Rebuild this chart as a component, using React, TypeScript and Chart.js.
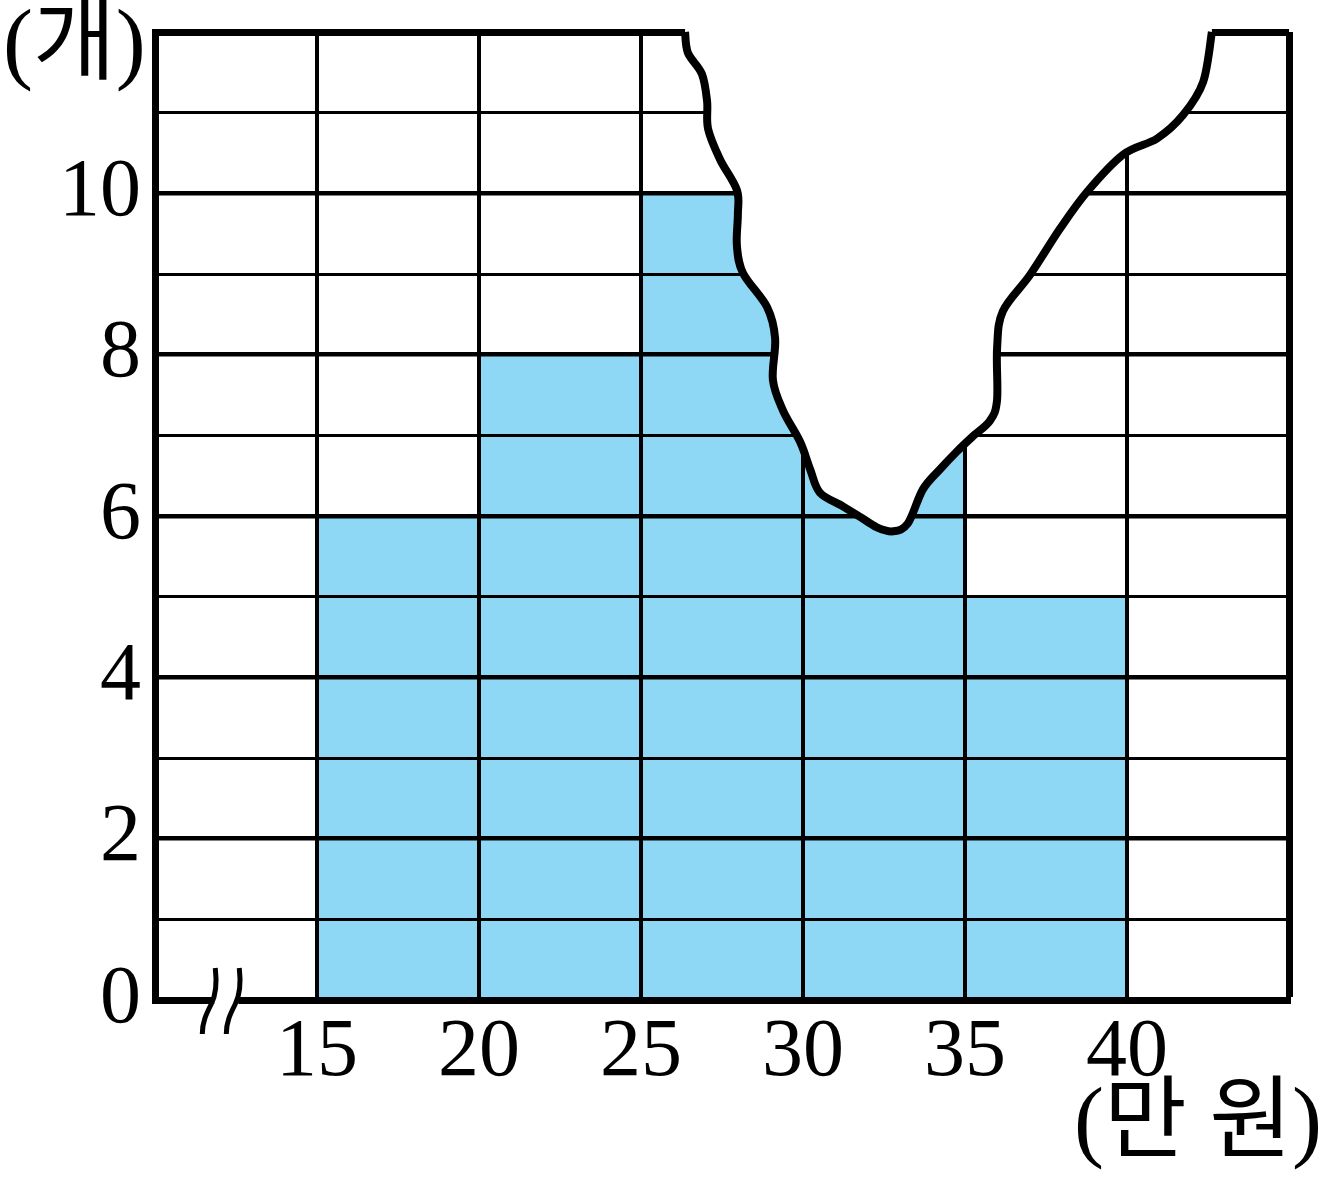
import React, { useEffect, useRef } from "react";
import { Chart, registerables } from "chart.js";

Chart.register(...registerables);

// ---- data ----
const binStarts = [15, 20, 25, 30, 35];
const binWidth = 5;
// 30~35 bar top is hidden by the torn part (at least 7)
const counts = [6, 8, 10, 8, 5];
const xTickValues = [15, 20, 25, 30, 35, 40];
const yTickValues = [0, 2, 4, 6, 8, 10];
const xMin = 10;
const xMax = 45;
const yMax = 12;
const yUnit = "(개)";
const xUnit = "(만 원)";

// torn edge, in data units (만 원, 개)
const tearX = [26.36, 26.45, 26.88, 27.04, 27.07, 27.44, 27.96, 27.99, 27.96, 28.15, 28.89, 29.14, 29.07, 29.38, 29.91, 30.22, 30.52, 31.23, 31.76, 32.28, 32.78, 33.24, 33.7, 34.23, 34.75, 35.22, 35.77, 35.99, 35.99, 36.17, 37.01, 37.93, 38.77, 39.88, 40.93, 41.73, 42.35, 42.62];
const tearY = [12.0, 11.74, 11.48, 11.14, 10.8, 10.42, 10.04, 9.74, 9.35, 9.01, 8.59, 8.2, 7.69, 7.31, 6.92, 6.58, 6.29, 6.12, 5.99, 5.86, 5.81, 5.91, 6.33, 6.58, 6.8, 6.98, 7.18, 7.44, 8.08, 8.54, 8.99, 9.56, 10.02, 10.48, 10.68, 10.97, 11.38, 12.0];
const breakAt = 12.2;

const BAR_COLOR = "#8fd8f5";
const SERIF = "'Liberation Serif', 'DejaVu Serif', 'Noto Sans CJK KR', serif";

function smoothPath(ctx: CanvasRenderingContext2D, pts: { x: number; y: number }[], move: boolean) {
  if (move) ctx.moveTo(pts[0].x, pts[0].y);
  for (let i = 0; i < pts.length - 1; i++) {
    const p0 = pts[Math.max(0, i - 1)];
    const p1 = pts[i];
    const p2 = pts[i + 1];
    const p3 = pts[Math.min(pts.length - 1, i + 2)];
    const c1x = p1.x + (p2.x - p0.x) / 6;
    const c1y = p1.y + (p2.y - p0.y) / 6;
    const c2x = p2.x - (p3.x - p1.x) / 6;
    const c2y = p2.y - (p3.y - p1.y) / 6;
    ctx.bezierCurveTo(c1x, c1y, c2x, c2y, p2.x, p2.y);
  }
}

const decorPlugin = {
  id: "decor",
  afterDraw(chart: any) {
    const ctx: CanvasRenderingContext2D = chart.ctx;
    const xs = chart.scales.x;
    const ys = chart.scales.y;
    const pts = tearX.map((x, i) => ({ x: xs.getPixelForValue(x), y: ys.getPixelForValue(tearY[i]) }));

    // torn region (white)
    ctx.save();
    ctx.beginPath();
    smoothPath(ctx, pts, true);
    const topY = ys.getPixelForValue(yMax) - 12;
    ctx.lineTo(pts[pts.length - 1].x, topY);
    ctx.lineTo(pts[0].x, topY);
    ctx.closePath();
    ctx.fillStyle = "#ffffff";
    ctx.fill();

    ctx.beginPath();
    smoothPath(ctx, pts, true);
    ctx.lineWidth = 8;
    ctx.strokeStyle = "#000";
    ctx.lineJoin = "round";
    ctx.lineCap = "butt";
    ctx.stroke();
    ctx.restore();

    // axis break symbol
    const bx = xs.getPixelForValue(breakAt);
    const by = ys.getPixelForValue(0);
    ctx.save();
    ctx.fillStyle = "#fff";
    ctx.fillRect(bx - 12, by - 6, 24, 12);
    ctx.strokeStyle = "#000";
    ctx.lineWidth = 5;
    ctx.lineCap = "butt";
    [-12, 12].forEach((dx) => {
      const cx = bx + dx;
      ctx.beginPath();
      ctx.moveTo(cx + 1, by - 32);
      ctx.bezierCurveTo(cx + 3, by - 15, cx + 1, by - 4, cx - 3, by + 4);
      ctx.bezierCurveTo(cx - 8, by + 14, cx - 12, by + 22, cx - 12, by + 34);
      ctx.stroke();
    });
    ctx.restore();

    // unit labels
    ctx.save();
    ctx.fillStyle = "#000";
    ctx.font = `90px ${SERIF}`;
    ctx.textBaseline = "middle";
    ctx.textAlign = "left";
    ctx.fillText(yUnit, 3, 48);
    ctx.textAlign = "right";
    ctx.fillText(xUnit, 1322, 1126);
    ctx.restore();
  },
};

export default function App() {
  const ref = useRef<HTMLCanvasElement | null>(null);
  useEffect(() => {
    if (!ref.current) return;
    const chart = new Chart(ref.current, {
      type: "bar",
      data: {
        datasets: [
          {
            data: binStarts.map((s, i) => ({ x: s + binWidth / 2, y: counts[i] })),
            backgroundColor: BAR_COLOR,
            borderWidth: 0,
            barPercentage: 1,
            categoryPercentage: 1,
          },
        ],
      },
      options: {
        responsive: false,
        animation: false,
        devicePixelRatio: 1,
        layout: { padding: { top: 32, right: 35, left: 0, bottom: 0 } },
        plugins: { legend: { display: false }, tooltip: { enabled: false } },
        scales: {
          x: {
            type: "linear",
            min: xMin,
            max: xMax,
            offset: false,
            grid: {
              z: 1,
              offset: false,
              drawTicks: false,
              color: "#000",
              lineWidth: (c: any) => (c.tick && c.tick.value === xMax ? 7 : 4),
            },
            border: { display: true, width: 7, color: "#000", z: 2 },
            ticks: {
              stepSize: 5,
              autoSkip: false,
              maxRotation: 0,
              padding: 4,
              color: "#000",
              font: { family: SERIF, size: 82 },
              callback: (v: any) => (xTickValues.includes(v) ? String(v) : ""),
            },
            afterFit: (s: any) => {
              s.height = 181;
              s.paddingLeft = 0;
              s.paddingRight = 0;
            },
          },
          y: {
            type: "linear",
            min: 0,
            max: yMax,
            grid: {
              z: 1,
              drawTicks: false,
              color: "#000",
              lineWidth: (c: any) => {
                const v = c.tick ? c.tick.value : 0;
                if (v === yMax) return 7;
                return v % 2 === 0 ? 4.5 : 3;
              },
            },
            border: { display: true, width: 7, color: "#000", z: 2 },
            ticks: {
              stepSize: 1,
              autoSkip: false,
              padding: 14,
              color: "#000",
              font: { family: SERIF, size: 82 },
              callback: (v: any) => (yTickValues.includes(v) ? String(v) : ""),
            },
            afterFit: (s: any) => {
              s.width = 155;
              s.paddingTop = 0;
              s.paddingBottom = 0;
            },
          },
        },
      },
      plugins: [decorPlugin],
    });
    return () => chart.destroy();
  }, []);
  return (
    <div style={{ position: "absolute", left: 0, top: 0, width: 1324, height: 1181, background: "#fff" }}>
      <canvas ref={ref} width={1324} height={1181} />
    </div>
  );
}
